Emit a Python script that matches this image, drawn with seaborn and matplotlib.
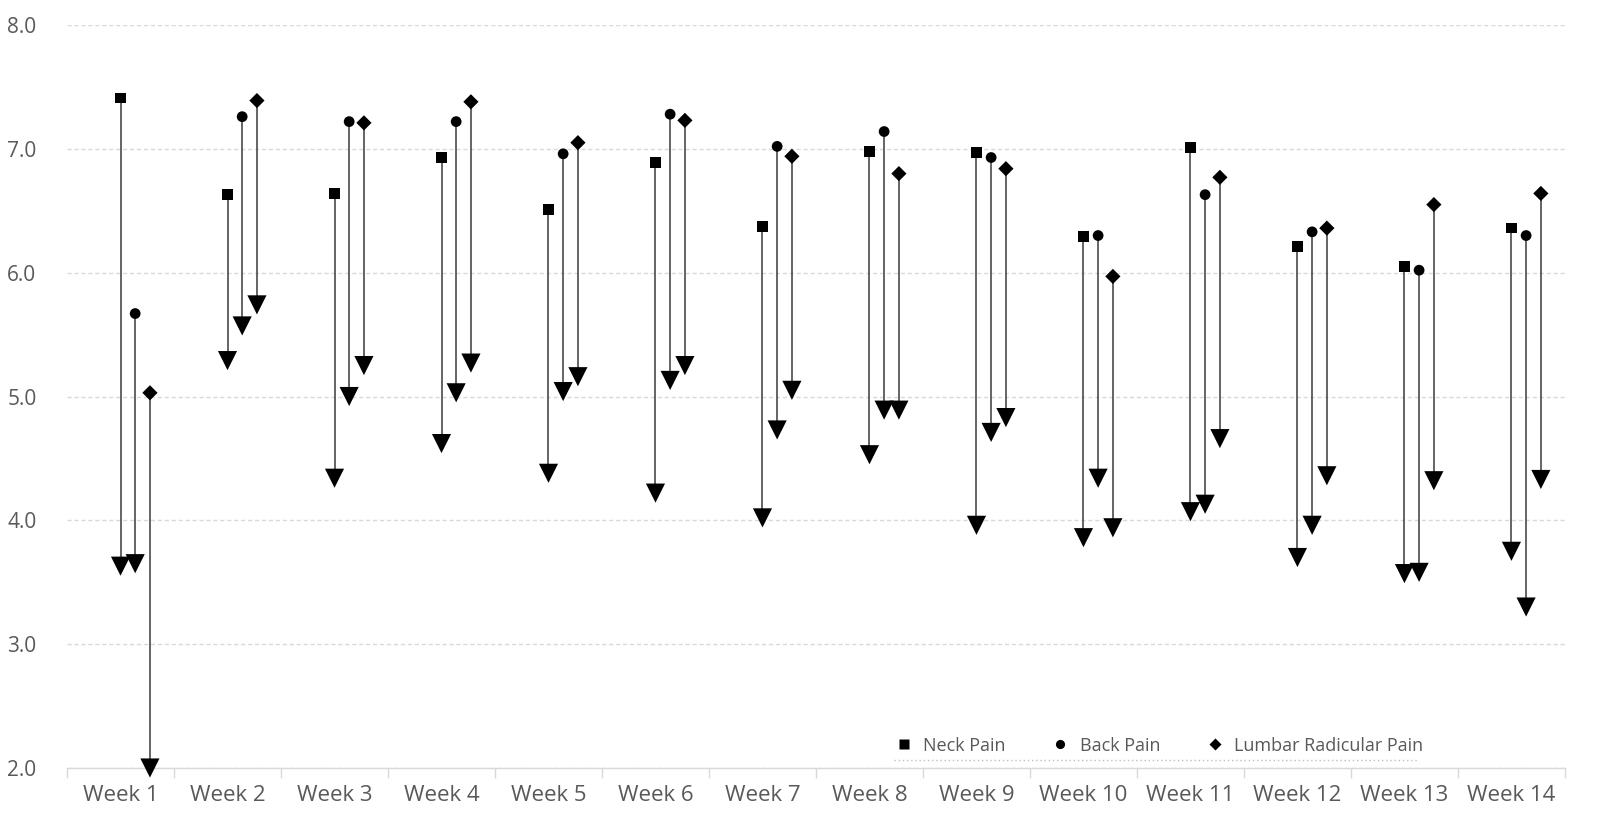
import matplotlib
matplotlib.use('Agg')
import matplotlib.pyplot as plt
import pandas as pd
import seaborn as sns
import numpy as np

weeks = ['Week %d' % i for i in range(1, 15)]
conditions = ['Neck Pain', 'Back Pain', 'Lumbar Radicular Pain']

# start (before) and end (after) scores per week
neck_start = [7.41, 6.63, 6.64, 6.93, 6.51, 6.89, 6.37, 6.98, 6.97, 6.29, 7.01, 6.21, 6.05, 6.36]
neck_end = [3.63, 5.29, 4.34, 4.62, 4.38, 4.22, 4.02, 4.53, 3.96, 3.86, 4.07, 3.70, 3.57, 3.75]
back_start = [5.67, 7.26, 7.22, 7.22, 6.96, 7.28, 7.02, 7.14, 6.93, 6.30, 6.63, 6.33, 6.02, 6.30]
back_end = [3.65, 5.57, 5.00, 5.03, 5.04, 5.13, 4.73, 4.89, 4.71, 4.34, 4.13, 3.96, 3.58, 3.30]
lumbar_start = [5.03, 7.39, 7.21, 7.38, 7.05, 7.23, 6.94, 6.80, 6.84, 5.97, 6.77, 6.36, 6.55, 6.64]
lumbar_end = [2.00, 5.74, 5.25, 5.27, 5.16, 5.25, 5.05, 4.89, 4.83, 3.94, 4.66, 4.36, 4.32, 4.33]

offsets = {'Neck Pain': 0.0, 'Back Pain': 0.137, 'Lumbar Radicular Pain': 0.275}

rows = []
for cond, st, en in [('Neck Pain', neck_start, neck_end),
                     ('Back Pain', back_start, back_end),
                     ('Lumbar Radicular Pain', lumbar_start, lumbar_end)]:
    for i, w in enumerate(weeks):
        rows.append({'week': w, 'condition': cond, 'x': i + offsets[cond],
                     'start': st[i], 'end': en[i]})
df = pd.DataFrame(rows)

sns.set_theme(style='white')
plt.rcParams['font.family'] = ['Open Sans', 'DejaVu Sans']

fig = plt.figure(figsize=(16.15, 8.4), dpi=100)
ax = fig.add_axes([0.0415, 0.0857, 0.9275, 0.8845])

ax.vlines(df['x'], df['end'], df['start'], color='#3a3a3a', linewidth=1.1, zorder=2)

sns.scatterplot(data=df, x='x', y='end', marker='v', color='black', s=190,
                edgecolor='none', legend=False, ax=ax, zorder=3, clip_on=False)
sns.scatterplot(data=df, x='x', y='start', style='condition',
                markers={'Neck Pain': 's', 'Back Pain': 'o', 'Lumbar Radicular Pain': 'D'},
                style_order=conditions, color='black', s=60, edgecolor='none',
                ax=ax, zorder=4, clip_on=False)

ax.set_xlim(-0.5, 13.5)
ax.set_ylim(2, 8)
ax.set_yticks(np.arange(2, 8.01, 1.0))
ax.set_yticklabels(['%.1f' % v for v in np.arange(2, 8.01, 1.0)])
ax.set_xticks(range(len(weeks)))
ax.set_xticklabels(weeks)
ax.set_xticks(np.arange(-0.5, 13.6, 1.0), minor=True)
ax.tick_params(axis='x', which='major', length=0, pad=12, labelsize=16, labelcolor='#595959')
ax.tick_params(axis='x', which='minor', length=7, width=1, color='#d9d9d9', direction='out', bottom=True)
ax.tick_params(axis='y', length=0, pad=22, labelsize=15, labelcolor='#595959')
ax.set_xlabel('')
ax.set_ylabel('')

ax.grid(axis='y', color='#d9d9d9', linestyle=(0, (3, 2)), linewidth=1)
ax.set_axisbelow(True)
for s in ['left', 'right', 'top']:
    ax.spines[s].set_visible(False)
ax.spines['bottom'].set_color('#d9d9d9')
ax.spines['bottom'].set_linewidth(1)
ax.spines['bottom'].set_zorder(1)

leg = ax.legend(loc='center', bbox_to_anchor=(0.726, 0.03), ncol=3, frameon=False,
                fontsize=13, markerscale=0.85, handletextpad=0.1, columnspacing=2.0,
                labelcolor='#595959')
ax.plot([0.552, 0.902], [0.011, 0.011], transform=ax.transAxes, color='#bfbfbf',
        linestyle=(0, (1, 2)), linewidth=1, clip_on=False)

fig.savefig('out.png', dpi=100, facecolor='white')
